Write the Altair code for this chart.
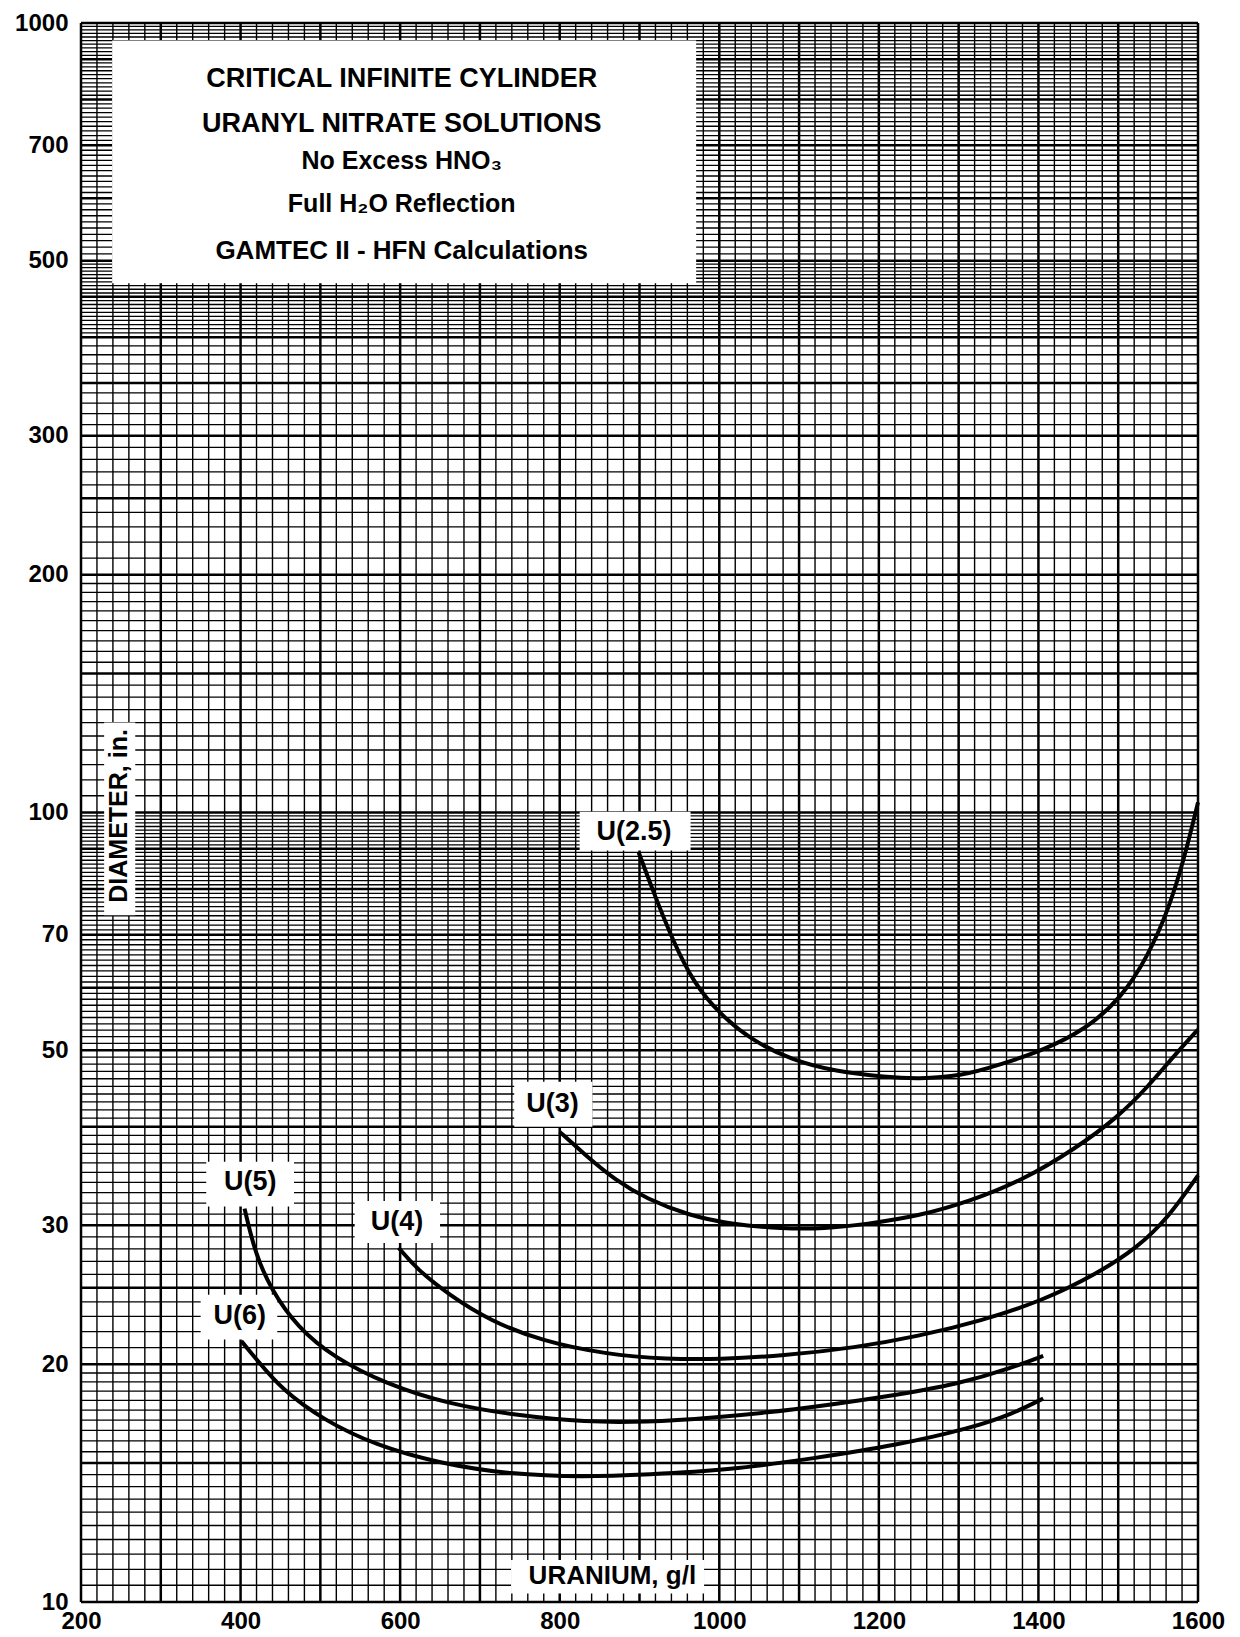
import altair as alt
import pandas as pd

# ---------------- data ----------------
U25_X = [899, 916, 942, 968, 1001, 1040, 1092, 1145, 1210, 1249, 1302, 1354, 1406, 1459, 1504, 1537, 1563, 1583, 1600]
U25_Y = [89.0, 80.0, 68.7, 60.8, 55.5, 51.5, 48.5, 47.0, 46.2, 46.0, 46.3, 48.0, 50.0, 53.1, 58.2, 65.7, 75.3, 87.6, 103.0]

U3_X = [800, 831, 870, 909, 961, 1014, 1079, 1132, 1184, 1249, 1315, 1380, 1446, 1498, 1537, 1570, 1600]
U3_Y = [39.4, 36.9, 34.2, 32.4, 30.9, 30.1, 29.7, 29.7, 30.1, 30.8, 32.2, 34.2, 37.5, 41.0, 44.9, 49.2, 53.1]

U4_X = [598, 621, 661, 713, 778, 857, 935, 1001, 1079, 1171, 1249, 1328, 1406, 1472, 1524, 1563, 1600]
U4_Y = [28.1, 26.4, 24.5, 22.7, 21.4, 20.6, 20.3, 20.3, 20.5, 21.0, 21.7, 22.7, 24.1, 26.0, 28.1, 30.7, 34.7]

U5_X = [405, 418, 438, 471, 517, 582, 661, 752, 831, 909, 988, 1092, 1210, 1302, 1367, 1406]
U5_Y = [31.5, 27.7, 24.9, 22.3, 20.4, 18.9, 17.8, 17.2, 16.9, 16.9, 17.1, 17.5, 18.2, 18.9, 19.8, 20.5]

U6_X = [401, 418, 451, 504, 569, 647, 739, 831, 909, 1014, 1118, 1223, 1315, 1367, 1406]
U6_Y = [21.4, 20.4, 18.6, 17.0, 15.8, 15.0, 14.5, 14.4, 14.5, 14.7, 15.2, 15.8, 16.6, 17.3, 18.1]

SERIES = [("U(2.5)", U25_X, U25_Y), ("U(3)", U3_X, U3_Y), ("U(4)", U4_X, U4_Y),
          ("U(5)", U5_X, U5_Y), ("U(6)", U6_X, U6_Y)]

# curve labels
LABEL_TEXT = ["U(2.5)", "U(3)", "U(5)", "U(4)", "U(6)"]
LABEL_X = [893, 791, 412, 596, 399]
LABEL_Y = [94.5, 42.7, 34.0, 30.3, 23.0]

# white boxes: title, curve labels, axis titles
BOX_X1 = [239, 825, 743, 357, 543, 350, 229, 739]
BOX_X2 = [971, 964, 841, 467, 650, 446, 268, 981]
BOX_Y1 = [950, 100.2, 45.6, 36.1, 32.2, 24.5, 130, 11.3]
BOX_Y2 = [468, 89.5, 40.0, 31.7, 28.5, 21.5, 74.1, 10.25]

# title block
TITLE_LINES = ["CRITICAL INFINITE CYLINDER", "URANYL NITRATE SOLUTIONS", "No Excess HNO\u2083",
               "Full H\u2082O Reflection", "GAMTEC II - HFN Calculations"]
TITLE_X = [602, 602, 602, 602, 602]
TITLE_Y = [849.8, 745.6, 669.2, 590.6, 513.6]
TITLE_SIZE = [27, 27, 25, 25, 26]

X_TITLE = "URANIUM, g/l"
Y_TITLE = "DIAMETER, in."
X_TITLE_POS = (866, 10.79)
Y_TITLE_POS = (248, 99.0)

X_TICKS = [200, 400, 600, 800, 1000, 1200, 1400, 1600]
Y_TICKS = [10, 20, 30, 50, 70, 100, 200, 300, 500, 700, 1000]

# graph paper rulings
V_MAJOR = list(range(200, 1601, 100))
V_MINOR = [v for v in range(200, 1601, 20) if v % 100]
H_SEGMENTS = [(10, 20, 0.5), (20, 50, 1), (50, 100, 1), (100, 200, 5),
              (200, 400, 10), (400, 500, 5), (500, 1000, 10)]
H_MAJOR = [10, 15, 20, 25, 30, 40, 50, 60, 70, 80, 90, 100, 150, 200, 250, 300,
           350, 400, 450, 500, 600, 700, 800, 900, 1000]
H_ALL = []
for a, b, s in H_SEGMENTS:
    n = int(round((b - a) / s))
    H_ALL += [round(a + i * s, 3) for i in range(n + 1)]
H_MINOR = sorted(set(v for v in H_ALL if v not in H_MAJOR))

# ---------------- chart ----------------
FONT = "Liberation Sans, Arial, Helvetica, sans-serif"
xscale = alt.Scale(domain=[200, 1600], nice=False, zero=False)
yscale = alt.Scale(type="log", domain=[10, 1000], nice=False)
xaxis = alt.Axis(values=X_TICKS, title=None, grid=False, ticks=False, domain=False,
                 labelFontSize=24, labelFontWeight="bold", labelFont=FONT, labelColor="black",
                 labelPadding=7, labelFlush=False, format="d")
yaxis = alt.Axis(values=Y_TICKS, title=None, grid=False, ticks=False, domain=False,
                 labelFontSize=24, labelFontWeight="bold", labelFont=FONT, labelColor="black",
                 labelPadding=13, labelFlush=False, format="d")

vmin = alt.Chart(pd.DataFrame({"x": V_MINOR})).mark_rule(color="#000", strokeWidth=1.4).encode(
    x=alt.X("x:Q", scale=xscale, axis=xaxis))
vmaj = alt.Chart(pd.DataFrame({"x": V_MAJOR})).mark_rule(color="#000", strokeWidth=2.5).encode(
    x=alt.X("x:Q", scale=xscale, axis=xaxis))
hmin = alt.Chart(pd.DataFrame({"y": H_MINOR})).mark_rule(color="#000", strokeWidth=1.3).encode(
    y=alt.Y("y:Q", scale=yscale, axis=yaxis))
hmaj = alt.Chart(pd.DataFrame({"y": H_MAJOR})).mark_rule(color="#000", strokeWidth=2.5).encode(
    y=alt.Y("y:Q", scale=yscale, axis=yaxis))

boxes = alt.Chart(pd.DataFrame({"x1": BOX_X1, "x2": BOX_X2, "y1": BOX_Y1, "y2": BOX_Y2})).mark_rect(
    color="white").encode(
    x=alt.X("x1:Q", scale=xscale, axis=xaxis), x2="x2:Q",
    y=alt.Y("y1:Q", scale=yscale, axis=yaxis), y2="y2:Q")

rows = []
for name, xs, ys in SERIES:
    for i, (xv, yv) in enumerate(zip(xs, ys)):
        rows.append({"series": name, "x": xv, "y": yv, "o": i})
curves = alt.Chart(pd.DataFrame(rows)).mark_line(
    color="black", strokeWidth=4, interpolate="basis").encode(
    x=alt.X("x:Q", scale=xscale, axis=xaxis),
    y=alt.Y("y:Q", scale=yscale, axis=yaxis),
    detail="series:N", order="o:Q")

labels = alt.Chart(pd.DataFrame({"x": LABEL_X, "y": LABEL_Y, "t": LABEL_TEXT})).mark_text(
    font=FONT, fontWeight="bold", fontSize=27, color="black", align="center", baseline="middle").encode(
    x=alt.X("x:Q", scale=xscale, axis=xaxis), y=alt.Y("y:Q", scale=yscale, axis=yaxis), text="t:N")

titles = alt.Chart(pd.DataFrame({"x": TITLE_X, "y": TITLE_Y, "t": TITLE_LINES, "s": TITLE_SIZE})).mark_text(
    font=FONT, fontWeight="bold", color="black", align="center", baseline="middle").encode(
    x=alt.X("x:Q", scale=xscale, axis=xaxis), y=alt.Y("y:Q", scale=yscale, axis=yaxis),
    text="t:N", size=alt.Size("s:Q", scale=None, legend=None))

xtitle = alt.Chart(pd.DataFrame({"x": [X_TITLE_POS[0]], "y": [X_TITLE_POS[1]], "t": [X_TITLE]})).mark_text(
    font=FONT, fontWeight="bold", fontSize=26, color="black", align="center", baseline="middle").encode(
    x=alt.X("x:Q", scale=xscale, axis=xaxis), y=alt.Y("y:Q", scale=yscale, axis=yaxis), text="t:N")

ytitle = alt.Chart(pd.DataFrame({"x": [Y_TITLE_POS[0]], "y": [Y_TITLE_POS[1]], "t": [Y_TITLE]})).mark_text(
    font=FONT, fontWeight="bold", fontSize=25, color="black", align="center", baseline="middle",
    angle=270).encode(
    x=alt.X("x:Q", scale=xscale, axis=xaxis), y=alt.Y("y:Q", scale=yscale, axis=yaxis), text="t:N")

chart = alt.layer(vmin, hmin, vmaj, hmaj, boxes, curves, labels, titles, xtitle, ytitle).properties(
    width=1117, height=1579,
    autosize=alt.AutoSizeParams(type="none"),
    padding={"left": 73, "top": 15, "right": 30, "bottom": 34},
    background="white",
).configure_view(stroke=None)

chart.save("out.html", embed_options={"renderer": "svg", "actions": False})
